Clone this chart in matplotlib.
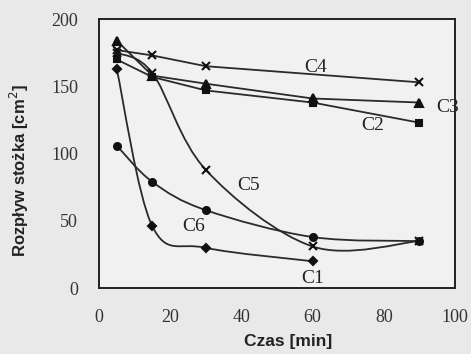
import matplotlib
matplotlib.use("Agg")
import matplotlib.pyplot as plt
from matplotlib.path import Path
from matplotlib.patches import PathPatch
import numpy as np

# czas [min]
czas = [5, 15, 30, 60, 90]
czas_c1 = [5, 15, 30, 60]
czas_c4 = [5, 15, 30, 90]

c1 = [163, 46, 30, 20]
c2 = [170, 157, 147, 138, 123]
c3 = [184, 158, 152, 141, 138]
c4 = [177, 173, 165, 153]
c5 = [175, 160, 88, 31, 35]
c6 = [106, 79, 58, 38, 35]

xticks = [0, 20, 40, 60, 80, 100]
yticks = [0, 50, 100, 150, 200]

line_col = "#2a2a2a"


def smooth_path(x, y):
    # Catmull-Rom -> Bezier, like Excel "smoothed line"
    p = np.column_stack([x, y]).astype(float)
    verts = [p[0]]
    codes = [Path.MOVETO]
    n = len(p)
    for i in range(n - 1):
        p0 = p[i - 1] if i > 0 else p[i]
        p3 = p[i + 2] if i + 2 < n else p[i + 1]
        c1_ = p[i] + (p[i + 1] - p0) / 6
        c2_ = p[i + 1] - (p3 - p[i]) / 6
        verts += [c1_, c2_, p[i + 1]]
        codes += [Path.CURVE4] * 3
    return Path(verts, codes)


fig = plt.figure(figsize=(4.71, 3.54), dpi=100, facecolor="#e9e9e9")
ax = fig.add_axes([0.21, 0.186, 0.756, 0.76])
ax.set_facecolor("#f1f1f1")

series = [
    (czas_c1, c1, "D", 4, True),
    (czas, c2, "s", 5, False),
    (czas, c3, "^", 6, False),
    (czas_c4, c4, "x", 6, False),
    (czas, c5, "x", 6, True),
    (czas, c6, "o", 5, True),
]
for x, y, m, ms, smooth in series:
    if smooth:
        ax.add_patch(PathPatch(smooth_path(x, y), fill=False, ec=line_col, lw=1.3))
    else:
        ax.plot(x, y, color=line_col, lw=1.3)
    ax.plot(x, y, ls="none", marker=m, ms=ms, color="#111111", mew=1.5)

labels = [("C4", 61, 164), ("C3", 98, 134), ("C2", 77, 121),
          ("C5", 42, 76), ("C6", 26.5, 46), ("C1", 60, 7.5)]
for t, lx, ly in labels:
    ax.text(lx, ly, t, family="Liberation Serif", fontsize=14,
            color="#222222", ha="center", va="center")

ax.set_xlim(0, 100)
ax.set_ylim(0, 200)
ax.set_xticks(xticks)
ax.set_yticks(yticks)
ax.tick_params(length=0, labelsize=13, colors="#333333")
ax.tick_params(axis="x", pad=15)
ax.tick_params(axis="y", pad=15)
for lab in ax.get_xticklabels() + ax.get_yticklabels():
    lab.set_family("Liberation Serif")
for s in ax.spines.values():
    s.set_color("#222222")
    s.set_linewidth(1.4)

ax.set_xlabel("Czas [min]", family="Liberation Sans", fontweight="bold",
              fontsize=12.5, color="#222222")
ax.xaxis.set_label_coords(0.53, -0.17)
ax.set_ylabel("Rozpływ stożka [cm$^2$]", family="Liberation Sans",
              fontweight="bold", fontsize=12, color="#222222")
ax.yaxis.set_label_coords(-0.19, 0.435)

fig.savefig("out.png", dpi=100, facecolor=fig.get_facecolor())
